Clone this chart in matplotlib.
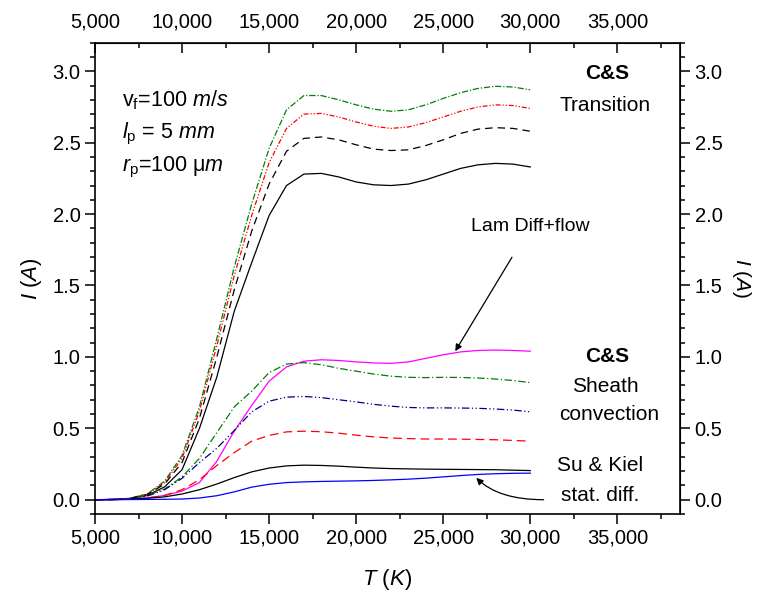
import numpy as np
import matplotlib
matplotlib.use("Agg")
import matplotlib.pyplot as plt
from matplotlib.ticker import MultipleLocator, FixedLocator, FuncFormatter

plt.rcParams["font.family"] = ["Liberation Sans", "DejaVu Sans"]
plt.rcParams["mathtext.fontset"] = "custom"
plt.rcParams["mathtext.rm"] = "Liberation Sans"
plt.rcParams["mathtext.it"] = "Liberation Sans:italic"
plt.rcParams["mathtext.bf"] = "Liberation Sans:bold"

# temperature grid (K)
T = [5000, 6000, 7000, 8000, 9000, 10000, 11000, 12000, 13000, 14000, 15000,
     16000, 17000, 18000, 19000, 20000, 21000, 22000, 23000, 24000, 25000,
     26000, 27000, 28000, 29000, 30000]

# C&S transition regime
trans_green = [0, 0.002, 0.01, 0.04, 0.13, 0.31, 0.65, 1.13, 1.63, 2.07, 2.46,
               2.73, 2.83, 2.83, 2.80, 2.765, 2.735, 2.72, 2.73, 2.765, 2.81,
               2.85, 2.88, 2.895, 2.89, 2.87]
trans_red = [0, 0.002, 0.01, 0.04, 0.12, 0.29, 0.62, 1.08, 1.57, 1.99, 2.36,
             2.60, 2.70, 2.705, 2.68, 2.645, 2.615, 2.60, 2.61, 2.64, 2.68,
             2.72, 2.75, 2.765, 2.76, 2.74]
trans_dash = [0, 0.002, 0.01, 0.035, 0.11, 0.26, 0.57, 1.0, 1.47, 1.88, 2.21,
              2.44, 2.53, 2.54, 2.52, 2.485, 2.455, 2.445, 2.45, 2.48, 2.52,
              2.565, 2.595, 2.605, 2.60, 2.58]
trans_solid = [0, 0.002, 0.008, 0.03, 0.09, 0.21, 0.50, 0.86, 1.32, 1.66, 1.99,
               2.20, 2.28, 2.285, 2.26, 2.225, 2.205, 2.20, 2.21, 2.24, 2.28,
               2.32, 2.345, 2.355, 2.35, 2.33]

# Lam diff + flow
lam_flow = [0, 0.001, 0.004, 0.012, 0.03, 0.06, 0.12, 0.27, 0.48, 0.66, 0.83,
            0.93, 0.97, 0.98, 0.975, 0.965, 0.958, 0.955, 0.965, 0.99, 1.015,
            1.035, 1.045, 1.048, 1.045, 1.04]

# C&S sheath convection regime
sheath_green = [0, 0.002, 0.008, 0.03, 0.075, 0.16, 0.29, 0.47, 0.65, 0.76,
                0.89, 0.95, 0.96, 0.945, 0.92, 0.90, 0.88, 0.865, 0.857, 0.855,
                0.857, 0.856, 0.852, 0.845, 0.835, 0.82]
sheath_navy = [0, 0.001, 0.006, 0.025, 0.07, 0.15, 0.26, 0.36, 0.485, 0.615,
               0.69, 0.718, 0.723, 0.715, 0.70, 0.685, 0.668, 0.655, 0.646,
               0.643, 0.643, 0.642, 0.64, 0.635, 0.628, 0.615]
sheath_red = [0, 0.001, 0.004, 0.012, 0.03, 0.07, 0.14, 0.24, 0.33, 0.41, 0.45,
              0.475, 0.48, 0.476, 0.466, 0.452, 0.44, 0.432, 0.428, 0.425,
              0.425, 0.424, 0.422, 0.42, 0.415, 0.41]
sheath_black = [0, 0.001, 0.003, 0.01, 0.02, 0.04, 0.07, 0.11, 0.155, 0.195,
                0.222, 0.237, 0.242, 0.24, 0.235, 0.228, 0.222, 0.218, 0.216,
                0.214, 0.213, 0.212, 0.211, 0.21, 0.207, 0.204]

# Su & Kiel stationary diffusion
su_kiel = [0, 0, 0.001, 0.002, 0.003, 0.005, 0.012, 0.028, 0.055, 0.088, 0.108,
           0.12, 0.125, 0.128, 0.13, 0.132, 0.135, 0.139, 0.144, 0.151, 0.16,
           0.169, 0.177, 0.182, 0.185, 0.186]

x_ticks = [5000, 10000, 15000, 20000, 25000, 30000, 35000]
y_ticks = [0.0, 0.5, 1.0, 1.5, 2.0, 2.5, 3.0]

fig = plt.figure(figsize=(7.61, 5.99), dpi=100)
ax = fig.add_axes([0.1248, 0.1419, 0.7688, 0.7868])

lw = 0.9
ax.plot(T, trans_green, color="#008000", lw=lw, ls=(0, (5, 1.5, 1, 1.5)))
ax.plot(T, trans_red, color="#ff0000", lw=lw, ls=(0, (4, 1.5, 1, 1.5, 1, 1.5)))
ax.plot(T, trans_dash, color="black", lw=lw, ls=(0, (6, 4)))
ax.plot(T, trans_solid, color="black", lw=lw, ls="-")
ax.plot(T, lam_flow, color="#ff00ff", lw=lw, ls="-")
ax.plot(T, sheath_green, color="#008000", lw=lw, ls=(0, (6, 2, 1, 2)))
ax.plot(T, sheath_navy, color="#000080", lw=lw, ls=(0, (6, 2, 1, 2, 1, 2)))
ax.plot(T, sheath_red, color="#ff0000", lw=lw, ls=(0, (7, 4)))
ax.plot(T, sheath_black, color="black", lw=lw, ls="-")
ax.plot(T, su_kiel, color="#0000ff", lw=lw, ls="-")

ax.set_xlim(5000, 38600)
ax.set_ylim(-0.1, 3.2)

xfmt = FuncFormatter(lambda v, p: f"{v:,.0f}")
yfmt = FuncFormatter(lambda v, p: f"{v:.1f}")
ax.xaxis.set_major_locator(FixedLocator(x_ticks))
ax.xaxis.set_minor_locator(MultipleLocator(2500))
ax.yaxis.set_major_locator(FixedLocator(y_ticks))
ax.yaxis.set_minor_locator(MultipleLocator(0.1))
ax.xaxis.set_major_formatter(xfmt)
ax.yaxis.set_major_formatter(yfmt)

fs_tick = 14.5
ax.tick_params(axis="both", which="major", direction="out", length=7,
               width=1.1, labelsize=fs_tick)
ax.tick_params(axis="both", which="minor", direction="out", length=3.5,
               width=1.1)
ax.tick_params(axis="x", which="both", top=False)
for s in ax.spines.values():
    s.set_linewidth(1.2)

top = ax.secondary_xaxis("top")
top.xaxis.set_major_locator(FixedLocator(x_ticks))
top.xaxis.set_minor_locator(MultipleLocator(2500))
top.xaxis.set_major_formatter(xfmt)
top.tick_params(which="major", direction="in", length=7, width=1.1,
                labelsize=fs_tick, pad=8)
top.tick_params(which="minor", direction="in", length=3.5, width=1.1)

right = ax.secondary_yaxis("right")
right.yaxis.set_major_locator(FixedLocator(y_ticks))
right.yaxis.set_minor_locator(MultipleLocator(0.1))
right.yaxis.set_major_formatter(yfmt)
right.tick_params(which="major", direction="out", length=7, width=1.1,
                  labelsize=fs_tick)
right.tick_params(which="minor", direction="out", length=3.5, width=1.1)
right.set_ylabel(r"$I$ ($A$)", fontsize=15, rotation=270, labelpad=22)

ax.set_xlabel(r"$T$ ($K$)", fontsize=16, labelpad=14)
ax.set_ylabel(r"$I$ ($A$)", fontsize=16, labelpad=6)

# parameter annotation
fs_txt = 15.5
ax.text(6550, 2.80, r"v$_\mathrm{f}$=100 $m/s$", fontsize=fs_txt, va="center")
ax.text(6550, 2.56, r"$l_\mathrm{p}$ = 5 $mm$", fontsize=fs_txt, va="center")
ax.text(6550, 2.33, r"$r_\mathrm{p}$=100 μ$m$", fontsize=fs_txt, va="center")

# regime labels
fs_lab = 15
ax.text(34400, 2.985, "C&S", fontsize=fs_lab, fontweight="bold", ha="center",
        va="center")
ax.text(34300, 2.76, "Transition", fontsize=fs_lab, ha="center", va="center")
ax.text(34400, 1.004, "C&S", fontsize=fs_lab, fontweight="bold", ha="center",
        va="center")
ax.text(34300, 0.79, "Sheath", fontsize=fs_lab, ha="center", va="center")
ax.text(34550, 0.60, "convection", fontsize=fs_lab, ha="center", va="center")
ax.text(34000, 0.237, "Su & Kiel", fontsize=fs_lab, ha="center", va="center")
ax.text(34000, 0.028, "stat. diff.", fontsize=fs_lab, ha="center", va="center")

# arrows
ax.annotate("Lam Diff+flow", xy=(25690, 1.04), xytext=(30000, 1.91),
            fontsize=14, ha="center", va="center",
            arrowprops=dict(arrowstyle="-|>", color="black", lw=0.9,
                            shrinkA=16, shrinkB=0, mutation_scale=10))
ax.annotate("", xy=(26900, 0.153), xytext=(30765, 0.0),
            arrowprops=dict(arrowstyle="-|>", color="black", lw=0.9,
                            shrinkA=0, shrinkB=0, mutation_scale=10,
                            connectionstyle="angle3,angleA=0,angleB=-45"))

fig.savefig("out.png", dpi=100)
